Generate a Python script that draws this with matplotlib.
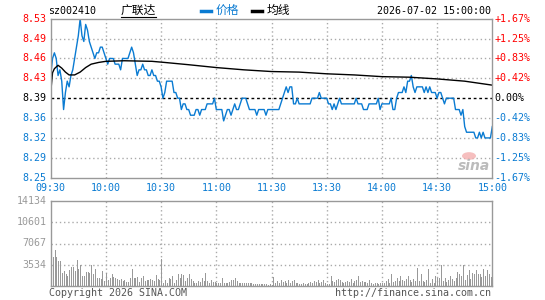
import matplotlib
matplotlib.use('Agg')
import matplotlib.pyplot as plt
from matplotlib.lines import Line2D
from matplotlib.patches import Circle

# --- data ---
prev_close = 8.39
pct_limit = 1.67

price_am = [
    8.43, 8.46, 8.47, 8.46, 8.43, 8.44, 8.42, 8.37, 8.40, 8.42, 8.41, 8.43, 8.44, 8.46, 8.48, 8.50, 8.53, 8.50, 8.49, 8.52,
    8.51, 8.49, 8.48, 8.47, 8.46, 8.47, 8.47, 8.48, 8.48, 8.47, 8.46, 8.45, 8.46, 8.46, 8.46, 8.45, 8.45, 8.45, 8.44, 8.46,
    8.46, 8.46, 8.46, 8.47, 8.48, 8.47, 8.45, 8.43, 8.44, 8.44, 8.45, 8.44, 8.44, 8.43, 8.43, 8.44, 8.43, 8.43, 8.42, 8.42,
    8.41, 8.39, 8.40, 8.42, 8.42, 8.42, 8.42, 8.40, 8.40, 8.39, 8.39, 8.37, 8.38, 8.38, 8.37, 8.37, 8.36, 8.36, 8.36, 8.37,
    8.37, 8.36, 8.37, 8.37, 8.37, 8.38, 8.38, 8.38, 8.38, 8.39, 8.37, 8.37, 8.37, 8.37, 8.35, 8.36, 8.37, 8.37, 8.36, 8.37,
    8.38, 8.37, 8.37, 8.38, 8.39, 8.39, 8.39, 8.38, 8.37, 8.37, 8.37, 8.37, 8.36, 8.37, 8.37, 8.37, 8.37, 8.36, 8.37, 8.37,
    8.37,
]
price_pm = [
    8.37, 8.37, 8.37, 8.37, 8.38, 8.39, 8.40, 8.41, 8.40, 8.41, 8.41, 8.38, 8.38, 8.39, 8.38, 8.38, 8.38, 8.38, 8.38, 8.38,
    8.38, 8.39, 8.39, 8.39, 8.39, 8.40, 8.39, 8.39, 8.39, 8.39, 8.38, 8.38, 8.37, 8.38, 8.37, 8.38, 8.39, 8.38, 8.38, 8.38,
    8.38, 8.38, 8.38, 8.38, 8.38, 8.39, 8.38, 8.38, 8.38, 8.37, 8.37, 8.37, 8.38, 8.38, 8.38, 8.38, 8.38, 8.39, 8.37, 8.38,
    8.38, 8.38, 8.38, 8.38, 8.39, 8.37, 8.37, 8.39, 8.40, 8.40, 8.40, 8.41, 8.40, 8.42, 8.42, 8.43, 8.41, 8.40, 8.41, 8.41,
    8.41, 8.41, 8.40, 8.41, 8.40, 8.41, 8.40, 8.40, 8.40, 8.39, 8.40, 8.40, 8.39, 8.38, 8.39, 8.39, 8.39, 8.39, 8.39, 8.37,
    8.37, 8.37, 8.36, 8.37, 8.34, 8.33, 8.33, 8.33, 8.33, 8.33, 8.32, 8.32, 8.33, 8.32, 8.33, 8.32, 8.32, 8.32, 8.32, 8.34,
]
price = price_am + price_pm

# average price line, read at a few minutes
avg_min = [0, 1, 2, 4, 6, 8, 10, 13, 16, 19, 22, 26, 30, 40, 55, 62, 75, 90, 105, 120,
           135, 150, 165, 180, 195, 210, 225, 240]
avg_val = [8.400, 8.435, 8.442, 8.448, 8.443, 8.436, 8.431, 8.431, 8.436, 8.444, 8.450, 8.453,
           8.455, 8.456, 8.455, 8.453, 8.449, 8.444, 8.440, 8.437, 8.436, 8.433, 8.431, 8.428,
           8.427, 8.424, 8.420, 8.413]

volume = [
    14134, 4900, 5930, 4900, 4210, 4100, 2230, 2510, 2050, 1650, 2620, 3080, 3200, 2510, 4330,
    2790, 3530, 1650, 1650, 2390, 2390, 2230, 3530, 1940, 2790, 1260, 1260, 1090, 2510, 800,
    2230, 970, 1260, 2050, 1480, 1260, 1090, 915, 1090, 800, 915, 630, 630, 1260, 2790, 1260,
    1370, 1480, 630, 1370, 1650, 800, 915, 915, 1090, 915, 800, 1830, 1090, 920, 4500,
    520, 915, 520, 1370, 1090, 1650, 520, 915, 1940, 1260, 1940, 1830, 800, 1260, 2050, 1090,
    800, 520, 520, 800, 690, 1260, 800, 2225, 800, 520, 915, 630, 690, 520,
    520, 520, 1260, 520, 520, 520, 690, 915, 915, 1370, 800, 520, 520, 520, 520, 520, 520, 520,
    520, 400, 400, 400, 350, 350, 350, 350, 350, 240, 350, 240,
    1480, 520, 800, 520, 915, 630, 800, 520, 915, 520, 800, 915, 520, 520, 400, 350, 460, 350,
    400, 520, 630, 520, 800, 630, 915, 520, 630, 915, 520, 400,
    400, 1650, 800, 690, 915, 1090, 915, 630, 520, 630, 800, 690, 1090, 520, 800, 915, 1650,
    690, 800, 630, 630, 520, 915, 520, 400, 520, 520, 400, 520, 520,
    520, 800, 1090, 520, 1940, 630, 800, 1260, 800, 1650, 915, 800, 1090, 1650, 915, 630, 1090,
    800, 2960, 800, 1940, 800, 630, 915, 2790, 520, 1090, 520, 1650, 1260,
    1260, 3534, 800, 1260, 630, 915, 1650, 1090, 800, 1260, 2390, 1940, 1650, 3534, 915, 1830,
    2620, 1090, 2225, 1940, 2620, 2050, 1940, 1480, 2790, 1650, 2620, 1940, 1480, 1650,
]

time_labels = ['09:30', '10:00', '10:30', '11:00', '11:30', '13:30', '14:00', '14:30', '15:00']
price_labels = ['8.25', '8.29', '8.32', '8.36', '8.39', '8.43', '8.46', '8.49', '8.53']
pct_labels = ['-1.67%', '-1.25%', '-0.83%', '-0.42%', '0.00%', '+0.42%', '+0.83%', '+1.25%', '+1.67%']
vol_ticks = [3534, 7067, 10601, 14134]
vol_labels = ['3534', '7067', '10601', '14134']
vol_max = 14134

RED = '#FF0000'
BLUE = '#0A7BD2'
GRAY = '#999999'
MONO = 'DejaVu Sans Mono'
CJK = ['Noto Sans CJK SC', 'DejaVu Sans']

W, H = 545, 300
fig = plt.figure(figsize=(W / 100, H / 100), dpi=100)


def fx(x):
    return x / W


def fy(y):
    return 1 - y / H


left, right = 50.7, 492.3
ax = fig.add_axes([fx(left), fy(177.7), (right - left) / W, (177.7 - 18.7) / H])
axv = fig.add_axes([fx(left), fy(286), (right - left) / W, (286 - 201) / H])

lo = prev_close * (1 - pct_limit / 100)
hi = prev_close * (1 + pct_limit / 100)
n_min = len(price) - 1

# price panel
ax.set_xlim(0, n_min)
ax.set_ylim(lo, hi)
step = (hi - lo) / 8
levels = [lo + i * step for i in range(9)]
for i, lv in enumerate(levels[1:-1], start=1):
    if i == 4:
        ax.axhline(lv, color='black', lw=1, ls=(0, (2, 2)), zorder=1)
    else:
        ax.axhline(lv, color='#AAAAAA', lw=1, ls=(0, (1, 2)), zorder=1)
for i in range(1, 8):
    ax.axvline(i * 30, color='#AAAAAA', lw=1, ls=(0, (1, 2)), zorder=1)
    axv.axvline(i * 30, color='#AAAAAA', lw=1, ls=(0, (1, 2)), zorder=1)

ax.plot(range(len(price)), price, color=BLUE, lw=1.0, zorder=3)
ax.plot(avg_min, avg_val, color='black', lw=1.0, zorder=4)

ytr = ax.get_yaxis_transform()
for i, lv in enumerate(levels):
    c = BLUE if i < 4 else ('black' if i == 4 else RED)
    ax.text(-0.009, lv, price_labels[i], transform=ytr, ha='right', va='center',
            color=c, fontsize=7.2, family=MONO)
    ax.text(1.005, lv, pct_labels[i], transform=ytr, ha='left', va='center',
            color=c, fontsize=7.2, family=MONO)

xtr = ax.get_xaxis_transform()
for i, lab in enumerate(time_labels):
    ax.text(i * 30, -0.065, lab, transform=xtr, ha='center', va='center',
            color=BLUE, fontsize=7.2, family=MONO)

# volume panel
axv.set_xlim(0, n_min)
axv.set_ylim(0, vol_max)
for v in vol_ticks[:-1]:
    axv.axhline(v, color='#AAAAAA', lw=1, ls=(0, (1, 2)), zorder=1)
axv.bar([i + 0.35 for i in range(len(volume))], volume, width=0.55, color='#999999',
        linewidth=0, antialiased=False, zorder=3)
vtr = axv.get_yaxis_transform()
for v, lab in zip(vol_ticks, vol_labels):
    axv.text(-0.009, v, lab, transform=vtr, ha='right', va='center',
             color=GRAY, fontsize=7.2, family=MONO)

for a in (ax, axv):
    a.set_xticks([])
    a.set_yticks([])
    for s in a.spines.values():
        s.set_color('#999999')
        s.set_linewidth(1)
        s.set_zorder(5)

# header
fig.text(fx(48), fy(11), 'sz002410', ha='left', va='center', fontsize=7.2, family=MONO)
fig.text(fx(121), fy(10.5), '广联达', ha='left', va='center', fontsize=8.5, family=CJK)
fig.add_artist(Line2D([fx(121), fx(156)], [fy(17), fy(17)], color='black', lw=0.8))
fig.add_artist(Line2D([fx(201), fx(211)], [fy(10.5), fy(10.5)], color=BLUE, lw=2.5))
fig.text(fx(216), fy(10.5), '价格', ha='left', va='center', fontsize=8.5, family=CJK, color=BLUE)
fig.add_artist(Line2D([fx(252), fx(262)], [fy(10.5), fy(10.5)], color='black', lw=2.5))
fig.text(fx(267), fy(10.5), '均线', ha='left', va='center', fontsize=8.5, family=CJK)
fig.text(fx(491), fy(11), '2026-07-02 15:00:00', ha='right', va='center', fontsize=7.2, family=MONO)

# sina watermark
fig.add_artist(Circle((fx(469), fy(156)), 7 / W, transform=fig.transFigure,
                      facecolor='#F4B0B0', edgecolor='none', alpha=0.8))
fig.text(fx(474), fy(166), 'sina', ha='center', va='center', fontsize=10,
         fontweight='bold', style='italic', color='#BBBBBB', family='DejaVu Sans')

# footer
fig.text(fx(49), fy(293), 'Copyright 2026 SINA.COM', ha='left', va='center',
         fontsize=7.2, family=MONO, color='#555555')
fig.text(fx(491), fy(293), 'http://finance.sina.com.cn', ha='right', va='center',
         fontsize=7.2, family=MONO, color='#555555')

fig.savefig('out.png', dpi=100)
